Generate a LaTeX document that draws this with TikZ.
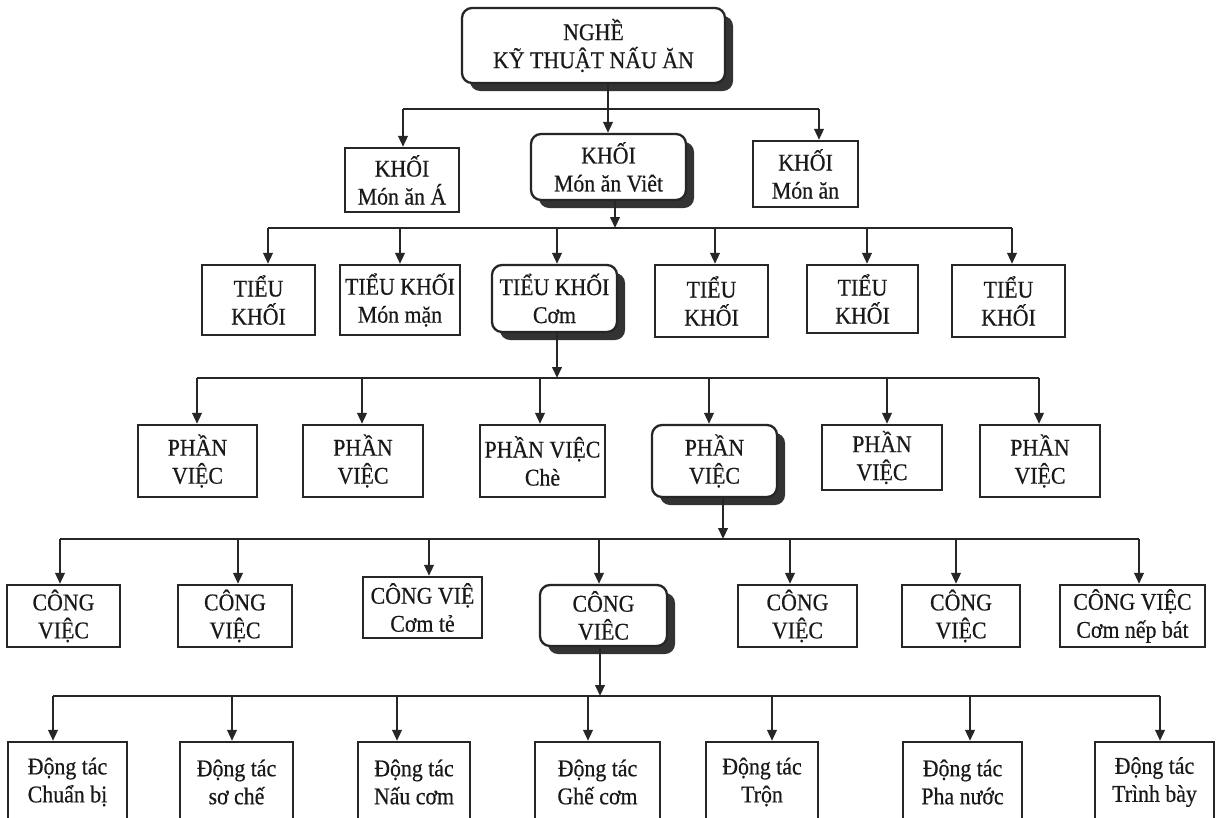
\documentclass[tikz,border=0pt]{standalone}
\usepackage{fontspec}
\setmainfont{Liberation Serif}[FakeStretch=0.91, FakeBold=0.5]
\usetikzlibrary{arrows.meta,shadows}
\newcommand\mkbox[7]{\node[#6, minimum width={#4-#2}, minimum height={#5-#3}] (#1) at ({(#2+#4)/2},{(#3+#5)/2}) {#7};}
\tikzset{
  ln/.style={line width=2.3pt, draw=black!85},
  arr/.style={ln, -{Triangle[length=11pt,width=9.5pt]}},
  bx/.style={draw=black!85, line width=2.3pt, fill=white, inner sep=0pt, align=center,
             font=\fontsize{24}{28}\selectfont, text=black!90},
  rbx/.style={bx, rounded corners=10pt,
              drop shadow={shadow xshift=8pt, shadow yshift=-8pt, fill=black!80, opacity=1}},
}
\begin{document}
\begin{tikzpicture}[x=1pt,y=-1pt]
\path[use as bounding box, fill=white] (0,0) rectangle (1223,817);
\clip (0,0) rectangle (1223,817);

% row 1
\mkbox{top}{462}{8}{725}{83}{rbx}{NGHỀ\\KỸ THUẬT NẤU ĂN}
% row 2
\mkbox{ka}{345}{148}{459}{212}{bx}{KHỐI\\Món ăn Á}
\mkbox{kv}{531}{134}{686}{200}{rbx}{KHỐI\\Món ăn Viêt}
\mkbox{kc}{753}{141}{858}{207}{bx}{KHỐI\\Món ăn}
% row 3
\mkbox{t1}{202}{265}{315}{335}{bx}{TIỂU\\KHỐI}
\mkbox{t2}{340}{265}{460}{335}{bx}{TIỂU KHỐI\\Món mặn}
\mkbox{t3}{492}{265}{617}{332}{rbx}{TIỂU KHỐI\\Cơm}
\mkbox{t4}{655}{265}{768}{337}{bx}{TIỂU\\KHỐI}
\mkbox{t5}{807}{265}{918}{333}{bx}{TIỂU\\KHỐI}
\mkbox{t6}{952}{265}{1065}{337}{bx}{TIỂU\\KHỐI}
% row 4
\mkbox{p1}{138}{425}{257}{497}{bx}{PHẦN\\VIỆC}
\mkbox{p2}{303}{425}{423}{497}{bx}{PHẦN\\VIỆC}
\mkbox{p3}{480}{425}{605}{497}{bx}{PHẦN VIỆC\\Chè}
\mkbox{p4}{652}{425}{777}{497}{rbx}{PHẦN\\VIỆC}
\mkbox{p5}{822}{425}{942}{490}{bx}{PHẦN\\VIỆC}
\mkbox{p6}{980}{425}{1100}{497}{bx}{PHẦN\\VIỆC}
% row 5
\mkbox{c1}{7}{585}{120}{647}{bx}{CÔNG\\VIỆC}
\mkbox{c2}{178}{585}{292}{647}{bx}{CÔNG\\VIỆC}
\mkbox{c3}{363}{577}{482}{638}{bx}{CÔNG VIỆ\\Cơm tẻ}
\mkbox{c4}{540}{585}{667}{646}{rbx}{CÔNG\\VIÊC}
\mkbox{c5}{738}{585}{857}{647}{bx}{CÔNG\\VIỆC}
\mkbox{c6}{902}{585}{1020}{647}{bx}{CÔNG\\VIỆC}
\mkbox{c7}{1060}{585}{1205}{647}{bx}{CÔNG VIỆC\\Cơm nếp bát}
% row 6
\mkbox{d1}{8}{742}{127}{822}{bx}{Động tác\\Chuẩn bị}
\mkbox{d2}{180}{742}{293}{822}{bx}{Động tác\\sơ chế}
\mkbox{d3}{358}{742}{470}{822}{bx}{Động tác\\Nấu cơm}
\mkbox{d4}{535}{742}{660}{822}{bx}{Động tác\\Ghế cơm}
\mkbox{d5}{706}{742}{818}{822}{bx}{Động tác\\Trộn}
\mkbox{d6}{903}{742}{1022}{822}{bx}{Động tác\\Pha nước}
\mkbox{d7}{1095}{742}{1214}{822}{bx}{Động tác\\Trình bày}

% level 1 -> 2
\coordinate (s1) at (608,109);
\coordinate (b1l) at (403,109);
\coordinate (b1r) at (819,109);
\draw[ln] (b1l) -- (b1r);
\draw[arr] (s1 |- top.south) -- (s1 |- kv.north);
\draw[arr] (b1l) -- (b1l |- ka.north);
\draw[arr] (b1r) -- (b1r |- kc.north);

% level 2 -> 3
\coordinate (s2) at (615,228);
\coordinate (b2l) at (268,228);
\coordinate (b2r) at (1012,228);
\draw[ln] (b2l) -- (b2r);
\draw[arr] (s2 |- kv.south) -- (s2);
\foreach \x/\n in {268/t1,400/t2,557/t3,715/t4,867/t5,1012/t6}{
  \coordinate (j) at (\x,228);
  \draw[arr] (j) -- (j |- \n.north);}

% level 3 -> 4
\coordinate (s3) at (557,378);
\coordinate (b3l) at (197,378);
\coordinate (b3r) at (1039,378);
\draw[ln] (b3l) -- (b3r);
\draw[arr] (s3 |- t3.south) -- (s3);
\foreach \x/\n in {197/p1,362/p2,540/p3,709/p4,887/p5,1039/p6}{
  \coordinate (j) at (\x,378);
  \draw[arr] (j) -- (j |- \n.north);}

% level 4 -> 5
\coordinate (s4) at (723,539);
\coordinate (b4l) at (60,539);
\coordinate (b4r) at (1139,539);
\draw[ln] (b4l) -- (b4r);
\draw[arr] (s4 |- p4.south) -- (s4);
\foreach \x/\n in {60/c1,238/c2,429/c3,599/c4,790/c5,956/c6,1139/c7}{
  \coordinate (j) at (\x,539);
  \draw[arr] (j) -- (j |- \n.north);}

% level 5 -> 6
\coordinate (s5) at (600,696);
\coordinate (b5l) at (53,696);
\coordinate (b5r) at (1160,696);
\draw[ln] (b5l) -- (b5r);
\draw[arr] (s5 |- c4.south) -- (s5);
\foreach \x/\n in {53/d1,232/d2,397/d3,588/d4,772/d5,970/d6,1160/d7}{
  \coordinate (j) at (\x,696);
  \draw[arr] (j) -- (j |- \n.north);}
\end{tikzpicture}
\end{document}
